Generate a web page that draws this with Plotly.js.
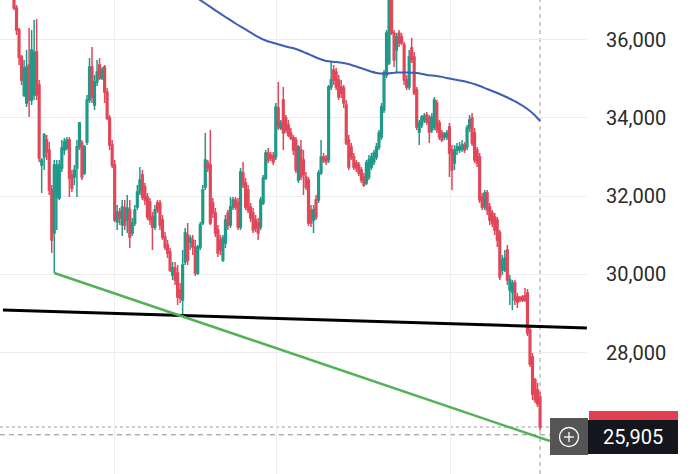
<!DOCTYPE html>
<html>
<head>
<meta charset="utf-8">
<script src="https://cdn.plot.ly/plotly-3.0.1.min.js"></script>
<style>html,body{margin:0;padding:0;background:#fff;}#chart{width:690px;height:474px;}</style>
</head>
<body>
<div id="chart"></div>
<script>
// ---- Data (prices) ----
const openP = [37137,36805,36243,35553,34583,34378,35349,34455,34583,35681,
34838,32795,32999,33433,33178,32156,31058,31978,31952,32718,
33178,33229,33433,32539,32488,32718,33255,33357,32591,33382,
34455,35298,34327,34915,35349,35017,35298,34659,33995,33306,
32795,31339,31594,31262,31697,31390,31645,31058,31314,31722,
32105,32539,32233,31978,31850,31467,31211,31824,31824,31390,
30956,30751,30573,29985,30164,30037,29602,29346,30318,31007,
30828,30879,30701,30037,30701,31314,32233,32846,32795,31824,
31569,31135,30879,30368,30803,31569,31262,31722,31901,31824,
31211,32591,32335,32156,31722,31569,31390,31314,31211,31824,
32463,33101,33050,33025,32999,34251,33740,34455,33995,33816,
33612,33484,33433,32412,33178,32922,32488,32412,31645,31390,
31901,31901,32591,32999,32974,32922,34787,35221,35170,34966,
34787,34761,34327,33433,33255,32999,32846,32795,32667,32488,
32335,32488,32744,32871,32999,33255,33510,34200,35094,35400,
37264,36166,35732,36166,36064,35860,34966,34787,35783,35553,
34710,33638,33816,33944,34072,33995,33689,33765,34378,33868,
33612,33510,33510,33765,33178,32846,33178,33178,33204,33306,
33255,33740,33995,33612,33178,32999,31978,31722,32080,31722,
31569,31467,31390,31058,30113,30113,30624,29602,29551,29781,
29424,29398,29424,29449,29526,28580,27891,27303,27047,26870];

const closeP = [36805,36243,35553,34966,35272,35298,34455,35732,35681,34583,
32974,32922,33561,33127,32156,30879,32795,32795,32795,33229,
33382,33433,32463,32207,32667,33255,33868,32488,33255,34455,
35298,34532,34915,35170,35017,35221,34659,33995,33306,32795,
31390,31594,31441,31722,31262,31697,30956,31314,31645,32105,
32412,31978,31901,31467,31390,31211,31645,31645,31262,30956,
30701,30547,30113,30164,29857,29424,29398,30241,31058,30368,
30930,30701,30037,30701,31262,32156,32922,32718,31314,31569,
31058,30547,30624,30930,31390,31262,31722,31901,31722,31211,
32616,32284,31722,31645,31441,31135,31186,31058,31901,32463,
33101,32922,32974,32871,34276,33765,33868,33612,33689,33561,
33484,33178,32667,33255,32488,32539,32233,31314,31314,31645,
31467,32591,32999,32922,32871,34787,34966,34966,34787,34532,
34634,34378,33357,32744,32999,32744,32718,32591,32412,32284,
32846,32922,32999,33101,33255,33612,34276,35145,36166,37264,
36166,35477,36064,35911,35911,34966,34787,35553,35477,34634,
33765,33868,34021,34046,33893,33638,34021,34455,33689,33510,
33433,33587,33612,33101,32667,33178,33255,33255,33306,33178,
33740,33944,33357,32922,32846,31901,31722,32080,31645,31390,
31314,31135,30879,29934,30368,30420,29857,29857,29781,29346,
29296,29346,29346,29346,28504,27712,26946,26792,26691,26103];

const highP = [37264,36881,36294,35604,35477,35732,36294,36243,36498,36524,
34966,32974,33612,33561,33382,32284,32922,32922,32922,33433,
33484,33510,33510,32667,32795,33433,33893,33433,33306,34583,
35528,35809,35094,35477,35528,35298,35349,34761,34072,33433,
32922,31773,31697,31901,31901,32029,31901,31441,31773,32284,
32744,32667,32335,32080,31952,31594,31773,31901,31901,31518,
31084,30879,30675,30318,30318,30241,29781,30624,31186,31314,
31007,31007,30879,30751,31339,32284,33612,32922,33689,31952,
31697,31262,31007,31007,31518,31645,31978,31978,31978,31952,
32718,32871,32463,32284,31824,31697,31518,31441,31978,32539,
33178,33229,33127,33127,34378,34915,33944,34787,34072,33944,
33740,33561,33510,33306,33433,33178,32616,32488,31773,31773,
32029,32667,33433,33101,33050,34838,35426,35349,35272,35094,
34966,34838,34455,33561,33357,33101,32922,32871,32744,32591,
32922,33050,33101,33178,33357,33689,34378,35221,36243,37520,
37520,36243,36166,36243,36166,35936,35094,35732,36038,35681,
34787,33944,34072,34123,34149,34072,34123,34532,34455,33944,
33689,33638,33689,33868,33306,33306,33357,33382,33433,33382,
33816,34072,34123,33740,33255,33101,32080,32156,32156,31824,
31645,31569,31467,31135,30496,30624,30751,29985,29857,29857,
29526,29449,29474,29653,29628,28657,27993,27355,27227,26997];

const lowP = [36754,36115,35349,34838,34532,34276,34021,34327,34455,34455,
32871,32080,32667,32922,32029,30547,30037,31135,31901,32616,
33050,33178,31978,32105,32284,31978,33178,32412,32539,33306,
34378,34378,34200,34813,34966,34966,34378,33944,33178,32718,
31339,31135,31262,30982,31135,31058,30675,30982,31237,31645,
32029,31901,31773,31390,31262,30624,31135,31569,31135,30879,
30624,30420,30062,29857,29730,29219,29270,28963,30241,30241,
30624,30496,29960,29985,30624,31262,32156,32616,31262,31441,
30956,30445,30496,30318,30675,31135,31186,31645,31645,31135,
31135,32207,31645,31569,31339,31058,31084,30879,31135,31773,
32412,32846,32897,32795,32922,33689,33689,33178,33612,33510,
33433,33050,32591,32335,32412,32029,32156,31237,31211,31058,
31390,31824,32539,32846,32795,32846,34710,34838,34710,34455,
34506,34251,33306,32667,32922,32667,32616,32514,32335,32233,
32284,32412,32667,32795,32922,33178,33433,34123,35017,35349,
36115,35298,35170,35809,35860,34838,34710,34710,35400,34583,
33689,33306,33740,33868,33816,33357,33612,33689,33612,33433,
33382,33433,33433,32488,32156,32667,33050,33101,33127,33101,
33178,33638,33280,32846,32744,31824,31645,31645,31518,31262,
31211,31007,30701,29857,29985,30062,29730,29219,29091,29219,
29143,29296,29296,29296,28428,27636,26792,26716,26614,26027];

// moving average (blue)
const maIdx = [68,72,76,80,84,88,92,96,100,104,108,112,116,120,124,128,132,136,140,144,148,152,156,160,164,168,172,176,180,184,188,192,196,200,204,207,209];
const maVal = [37264,37091,36920,36746,36575,36409,36261,36102,35975,35898,35821,35758,35655,35540,35451,35426,35387,35311,35221,35145,35132,35157,35157,35145,35094,35068,35017,34966,34915,34838,34736,34634,34519,34391,34225,34059,33919];

// trend lines
const blackX = [-4.4, 227.6];
const blackY = [29092, 28632];
const greenX = [16, 212.9];
const greenY = [30037, 25746];

// tick labels
const yTickVals = [28000, 30000, 32000, 34000, 36000];
const yTickText = ['28,000', '30,000', '32,000', '34,000', '36,000'];
const xGridVals = [40.1, 104.1, 173.6];

const crosshairPrice = 25905;
const crosshairLabel = '25,905';

// ---- Build ----
const idx = openP.map((_, i) => i);
const lastI = idx[idx.length - 1];
const lastClose = closeP[closeP.length - 1];

const UP = '#21998a', DOWN = '#e0485a';

const traces = [
  {
    type: 'candlestick', x: idx, open: openP, high: highP, low: lowP, close: closeP,
    increasing: {line: {color: UP, width: 1.5}, fillcolor: UP},
    decreasing: {line: {color: DOWN, width: 1.5}, fillcolor: DOWN},
    whiskerwidth: 0, hoverinfo: 'skip'
  },
  {type: 'scatter', mode: 'lines', x: maIdx, y: maVal,
   line: {color: '#3f5db3', width: 2, shape: 'spline', smoothing: 0.8}, hoverinfo: 'skip'},
  {type: 'scatter', mode: 'lines', x: blackX, y: blackY,
   line: {color: '#000000', width: 3}, hoverinfo: 'skip'},
  {type: 'scatter', mode: 'lines', x: greenX, y: greenY,
   line: {color: '#55b05a', width: 2.5}, hoverinfo: 'skip'}
];

const PW = 587, PH = 474;
const px = v => v / PW;
const py = v => 1 - v / PH;

const shapes = [
  {type: 'line', xref: 'x', yref: 'paper', x0: lastI, x1: lastI, y0: 0, y1: 1,
   line: {color: '#9a9a9a', width: 1, dash: '4px,4px'}, layer: 'below'},
  {type: 'line', xref: 'x', yref: 'y', x0: -5.6, x1: 213, y0: lastClose, y1: lastClose,
   line: {color: '#9a9a9a', width: 1, dash: 'dot'}, layer: 'below'},
  {type: 'line', xref: 'x', yref: 'y', x0: -5.6, x1: 213, y0: crosshairPrice, y1: crosshairPrice,
   line: {color: '#8a8a8a', width: 1, dash: '5px,4px'}, layer: 'below'},
  // last price (red) label, mostly hidden
  {type: 'rect', xref: 'paper', yref: 'paper', x0: px(589), x1: px(678), y0: py(421), y1: py(411),
   fillcolor: '#e0404f', line: {width: 0}, layer: 'above'},
  // gray + button
  {type: 'rect', xref: 'paper', yref: 'paper', x0: px(550), x1: px(588), y0: py(455), y1: py(418),
   fillcolor: '#555555', line: {width: 0}, layer: 'above'},
  // black price label
  {type: 'rect', xref: 'paper', yref: 'paper', x0: px(588), x1: px(678), y0: py(454), y1: py(420),
   fillcolor: '#14161d', line: {width: 0}, layer: 'above'},
  {type: 'circle', xref: 'paper', yref: 'paper', x0: px(559.5), x1: px(578.5), y0: py(446.5), y1: py(427.5),
   line: {color: '#ffffff', width: 1.3}, layer: 'above'},
  {type: 'line', xref: 'paper', yref: 'paper', x0: px(564), x1: px(574), y0: py(437), y1: py(437),
   line: {color: '#ffffff', width: 1.3}, layer: 'above'},
  {type: 'line', xref: 'paper', yref: 'paper', x0: px(569), x1: px(569), y0: py(432), y1: py(442),
   line: {color: '#ffffff', width: 1.3}, layer: 'above'}
];

const layout = {
  width: 690, height: 474,
  margin: {l: 0, r: 103, t: 0, b: 0, pad: 0},
  paper_bgcolor: '#ffffff', plot_bgcolor: '#ffffff',
  showlegend: false,
  boxgap: 0.05,
  xaxis: {
    range: [-5.56, 227.65], tickvals: xGridVals, showticklabels: false,
    showgrid: true, gridcolor: '#eeeeee', gridwidth: 1, zeroline: false, showline: false,
    ticks: '', rangeslider: {visible: false}, fixedrange: true
  },
  yaxis: {
    side: 'right', range: [24903, 37009], tickvals: yTickVals, ticktext: yTickText,
    showgrid: true, gridcolor: '#ececec', gridwidth: 1, zeroline: false, showline: false,
    ticks: '', ticklabelstandoff: 18,
    tickfont: {family: 'Roboto, Arial, sans-serif', size: 20, color: '#2a2a2a'},
    fixedrange: true
  },
  shapes: shapes,
  annotations: [
    {xref: 'paper', yref: 'paper', x: px(633), y: py(437), text: crosshairLabel, showarrow: false,
     xanchor: 'center', yanchor: 'middle',
     font: {family: 'Roboto, Arial, sans-serif', size: 20, color: '#ffffff'}}
  ]
};

Plotly.newPlot('chart', traces, layout, {staticPlot: true, displayModeBar: false});
</script>
</body>
</html>
